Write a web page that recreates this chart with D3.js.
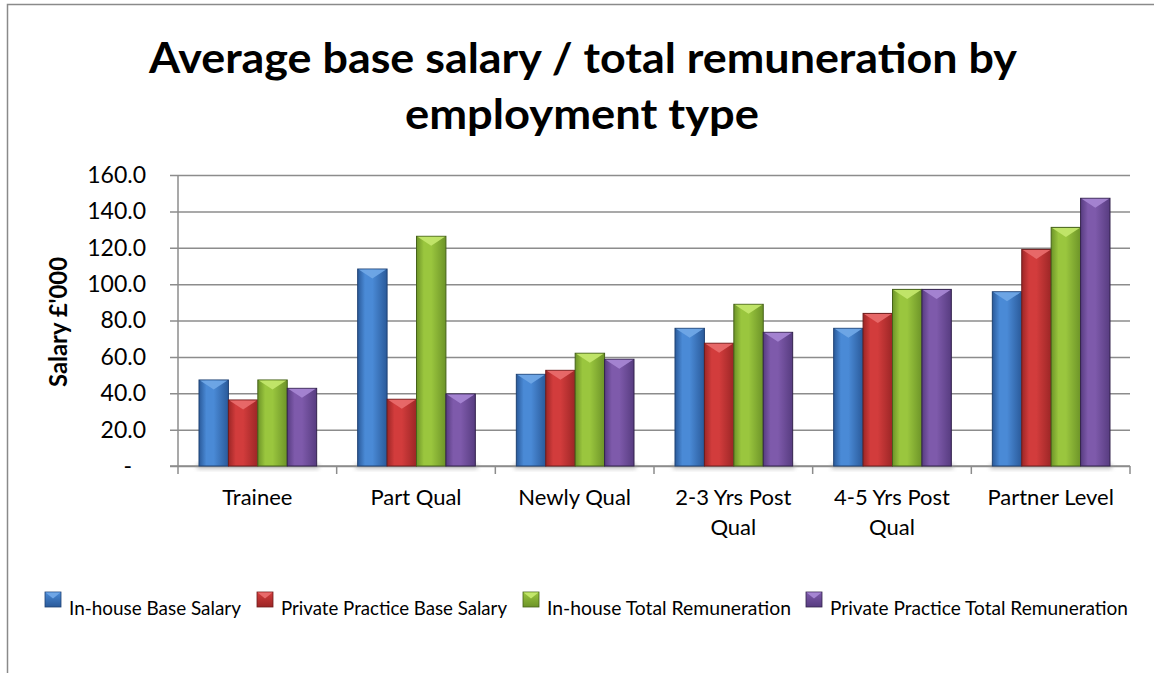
<!DOCTYPE html>
<html>
<head>
<meta charset="utf-8">
<script src="https://cdn.jsdelivr.net/npm/d3@7"></script>
<style>
  body { margin: 0; background: #fff; }
  svg { display: block; font-family: Lato, "Open Sans", sans-serif; }
</style>
</head>
<body>
<div id="chart"></div>
<script>
// chart data
const categories = ['Trainee', 'Part Qual', 'Newly Qual', '2-3 Yrs Post Qual', '4-5 Yrs Post Qual', 'Partner Level'];
const categoryLines = [['Trainee'], ['Part Qual'], ['Newly Qual'], ['2-3 Yrs Post', 'Qual'], ['4-5 Yrs Post', 'Qual'], ['Partner Level']];
const seriesNames = ['In-house Base Salary', 'Private Practice Base Salary', 'In-house Total Remuneration', 'Private Practice Total Remuneration'];
const inhouseBase = [47.3, 108.3, 50.4, 75.7, 75.7, 95.8];
const privateBase = [36.3, 36.7, 52.6, 67.5, 83.9, 119.1];
const inhouseTotal = [47.3, 126.3, 62.0, 88.9, 97.1, 131.2];
const privateTotal = [42.7, 39.6, 58.7, 73.5, 97.1, 147.2];
const yTicks = [0, 20, 40, 60, 80, 100, 120, 140, 160];

const seriesValues = [inhouseBase, privateBase, inhouseTotal, privateTotal];
const palette = [
    { mid: '#4a8ad6', light: '#6fa6e6', dark: '#2a5a9a', line: '#1f4274' },
    { mid: '#d23c3c', light: '#e86a6a', dark: '#9c2626', line: '#6e1c1c' },
    { mid: '#9ac63e', light: '#c2e66a', dark: '#6d9428', line: '#46621a' },
    { mid: '#7e5aab', light: '#a585d2', dark: '#573c80', line: '#33234d' }
];

const W = 1154, H = 673;
const margin = { top: 175, right: 24, bottom: 207, left: 178 };
const innerW = W - margin.left - margin.right;
const innerH = H - margin.top - margin.bottom;

const svg = d3.select('#chart').append('svg')
    .attr('width', W)
    .attr('height', H);

// outer frame (runs off the right and bottom edges)
svg.append('rect')
    .attr('x', 7.5).attr('y', 4.5)
    .attr('width', W + 50).attr('height', H + 50)
    .attr('fill', 'none')
    .attr('stroke', '#8a8a8a')
    .attr('stroke-width', 1.5);

const defs = svg.append('defs');
palette.forEach((p, i) => {
    const g = defs.append('linearGradient')
        .attr('id', 'bar' + i)
        .attr('x1', '0%').attr('x2', '100%').attr('y1', '0%').attr('y2', '0%');
    g.append('stop').attr('offset', '0%').attr('stop-color', p.dark);
    g.append('stop').attr('offset', '25%').attr('stop-color', p.mid);
    g.append('stop').attr('offset', '50%').attr('stop-color', p.mid);
    g.append('stop').attr('offset', '100%').attr('stop-color', p.dark);

    const s = defs.append('linearGradient')
        .attr('id', 'sw' + i)
        .attr('x1', '0%').attr('x2', '0%').attr('y1', '0%').attr('y2', '100%');
    s.append('stop').attr('offset', '0%').attr('stop-color', p.mid);
    s.append('stop').attr('offset', '100%').attr('stop-color', p.dark);
});
const blur = defs.append('filter').attr('id', 'shadow').attr('x', '-20%').attr('y', '-50%').attr('width', '140%').attr('height', '200%');
blur.append('feGaussianBlur').attr('stdDeviation', 2);

// title (squeezed a little to match the narrow original face)
svg.append('text')
    .attr('x', 583).attr('y', 73)
    .attr('text-anchor', 'middle')
    .attr('font-size', 42).attr('font-weight', 'bold')
    .attr('textLength', 868).attr('lengthAdjust', 'spacingAndGlyphs')
    .text('Average base salary / total remuneration by');
svg.append('text')
    .attr('x', 582).attr('y', 129)
    .attr('text-anchor', 'middle')
    .attr('font-size', 42).attr('font-weight', 'bold')
    .attr('textLength', 354).attr('lengthAdjust', 'spacingAndGlyphs')
    .text('employment type');

const chart = svg.append('g')
    .attr('transform', `translate(${margin.left},${margin.top})`);

const x0 = d3.scaleBand()
    .domain(categories)
    .range([0, innerW]);

const x1 = d3.scaleBand()
    .domain(d3.range(seriesNames.length))
    .range([21, x0.bandwidth() - 20]);

const y = d3.scaleLinear()
    .domain([0, 160])
    .range([innerH, 0]);

// gridlines + y ticks
const yAxis = d3.axisLeft(y)
    .tickValues(yTicks)
    .tickSize(0)
    .tickFormat(d => d === 0 ? '-' : d3.format('.1f')(d));

const yg = chart.append('g')
    .call(yAxis);
yg.select('.domain').remove();
yg.selectAll('.tick line')
    .attr('x1', -8).attr('x2', innerW)
    .attr('stroke', '#8c8c8c')
    .attr('stroke-width', 1.5);
yg.selectAll('.tick text')
    .attr('x', d => d === 0 ? -46 : -32)
    .attr('font-family', 'Lato, sans-serif')
    .attr('font-size', 23)
    .attr('fill', '#000');

// vertical axis line
chart.append('line')
    .attr('x1', 0).attr('x2', 0)
    .attr('y1', 0).attr('y2', innerH)
    .attr('stroke', '#8c8c8c').attr('stroke-width', 1.5);

// x axis line with boundary ticks
chart.append('line')
    .attr('x1', -8).attr('x2', innerW)
    .attr('y1', innerH).attr('y2', innerH)
    .attr('stroke', '#8c8c8c').attr('stroke-width', 1.5);
chart.selectAll('.xtick')
    .data(d3.range(categories.length + 1))
    .join('line')
    .attr('class', 'xtick')
    .attr('x1', i => i * x0.bandwidth()).attr('x2', i => i * x0.bandwidth())
    .attr('y1', innerH).attr('y2', innerH + 8)
    .attr('stroke', '#8c8c8c').attr('stroke-width', 1.5);

// bars
const groups = chart.selectAll('.group')
    .data(categories)
    .join('g')
    .attr('class', 'group')
    .attr('transform', d => `translate(${x0(d)},0)`);

groups.append('rect')
    .attr('x', x1(0) - 2)
    .attr('y', innerH - 2)
    .attr('width', x1.bandwidth() * 4 + 4)
    .attr('height', 5)
    .attr('fill', '#999')
    .attr('opacity', 0.6)
    .attr('filter', 'url(#shadow)');

groups.each(function (cat, ci) {
    const g = d3.select(this);
    const bars = seriesValues.map((vals, si) => ({ si, v: vals[ci] }));
    const bg = g.selectAll('.bar')
        .data(bars)
        .join('g')
        .attr('class', 'bar');
    bg.append('rect')
        .attr('x', d => x1(d.si))
        .attr('y', d => y(d.v))
        .attr('width', x1.bandwidth())
        .attr('height', d => innerH - y(d.v))
        .attr('fill', d => `url(#bar${d.si})`)
        .attr('stroke', d => palette[d.si].line)
        .attr('stroke-width', 1);
    bg.append('path')
        .attr('d', d => {
            const xa = x1(d.si) + 1, xb = x1(d.si) + x1.bandwidth() - 1, yt = y(d.v) + 0.5;
            return `M${xa},${yt}L${xb},${yt}L${(xa + xb) / 2},${yt + 9}Z`;
        })
        .attr('fill', d => palette[d.si].light)
        .attr('opacity', 0.95);
});

// x labels
chart.selectAll('.xlabel')
    .data(categories)
    .join('text')
    .attr('class', 'xlabel')
    .attr('text-anchor', 'middle')
    .attr('font-size', 22)
    .attr('fill', '#000')
    .each(function (d, i) {
        const t = d3.select(this);
        categoryLines[i].forEach((line, li) => {
            t.append('tspan')
                .attr('x', x0(d) + x0.bandwidth() / 2)
                .attr('y', innerH + 39 + li * 30)
                .text(line);
        });
    });

// y label
svg.append('text')
    .attr('transform', 'translate(67,322) rotate(-90)')
    .attr('text-anchor', 'middle')
    .attr('font-size', 24)
    .attr('font-weight', 'bold')
    .attr('textLength', 130).attr('lengthAdjust', 'spacingAndGlyphs')
    .text("Salary £'000");

// legend
const legendX = [45, 257, 523, 806];
const legendW = [172, 226, 244, 298];
const legend = svg.selectAll('.legend')
    .data(seriesNames)
    .join('g')
    .attr('class', 'legend')
    .attr('transform', (d, i) => `translate(${legendX[i]},592)`);
legend.append('rect')
    .attr('width', 16).attr('height', 15)
    .attr('fill', (d, i) => `url(#sw${i})`)
    .attr('stroke', (d, i) => palette[i].line)
    .attr('stroke-width', 0.8);
legend.append('path')
    .attr('d', 'M0.5,0.5L15.5,0.5L8,6.5Z')
    .attr('fill', (d, i) => palette[i].light);
legend.append('text')
    .attr('x', 24).attr('y', 23)
    .attr('font-size', 19)
    .attr('fill', '#000')
    .attr('textLength', (d, i) => legendW[i])
    .attr('lengthAdjust', 'spacingAndGlyphs')
    .text(d => d);
</script>
</body>
</html>
